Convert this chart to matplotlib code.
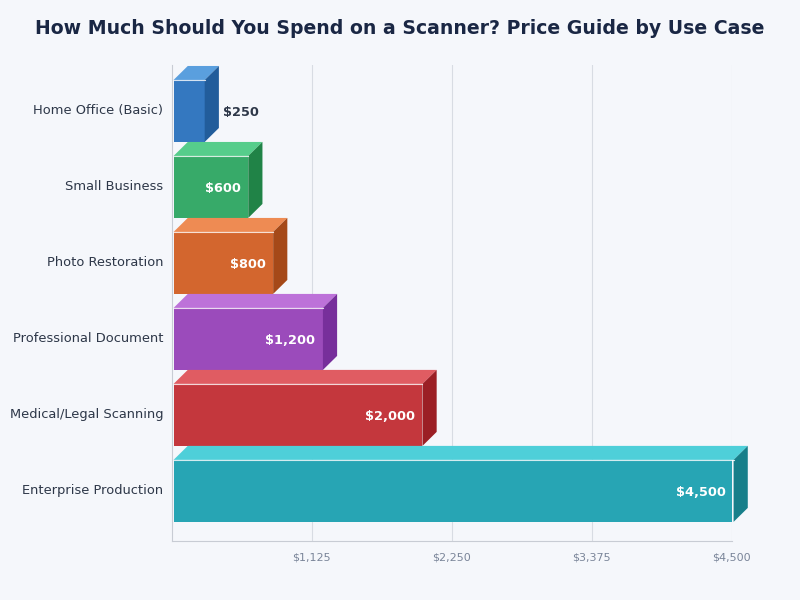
import matplotlib
matplotlib.use("Agg")
import matplotlib.pyplot as plt
from matplotlib.patches import Polygon

# data
categories = ["Enterprise Production", "Medical/Legal Scanning", "Professional Document",
              "Photo Restoration", "Small Business", "Home Office (Basic)"]
prices = [4500, 2000, 1200, 800, 600, 250]
front_colors = ["#27a5b4", "#c4373d", "#9b4bbb", "#d3662e", "#37aa69", "#3478c0"]
top_colors = ["#4ecfd9", "#e05c62", "#bd72d9", "#ee8b53", "#56cd8b", "#5a9fde"]
side_colors = ["#177f8a", "#9b1f25", "#772f9b", "#a54918", "#208347", "#225d9b"]
ticks = [1125, 2250, 3375, 4500]

bg = "#f5f7fb"
fig = plt.figure(figsize=(8, 6), dpi=100, facecolor=bg)
ax = fig.add_axes([0.2145, 0.0983, 0.70, 0.7934], facecolor=bg)

h = 0.816
dx = 114     # depth in x data units
dy = 0.184   # depth in y data units
x0 = 16      # small gap from the spine
ypos = list(range(len(categories)))

bars = ax.barh(ypos, prices, left=x0, height=h, color=front_colors, zorder=3)

for y, v, ct, cs in zip(ypos, prices, top_colors, side_colors):
    top = y + h / 2
    bot = y - h / 2
    r = x0 + v
    ax.add_patch(Polygon([(x0, top), (r, top), (r + dx, top + dy), (x0 + dx, top + dy)],
                         closed=True, facecolor=ct, edgecolor="none", zorder=3, clip_on=False))
    ax.add_patch(Polygon([(r, bot), (r + dx, bot + dy), (r + dx, top + dy), (r, top)],
                         closed=True, facecolor=cs, edgecolor="none", zorder=3, clip_on=False))
    ax.plot([x0, r], [top, top], color="white", lw=0.8, alpha=0.8, zorder=4, clip_on=False)
    label = "${:,}".format(v)
    if v < 400:
        ax.text(r + dx + 36, y, label, ha="left", va="center_baseline", fontsize=9.3,
                fontweight="bold", color="#2d3748", zorder=5)
    else:
        ax.text(r - 60, y, label, ha="right", va="center_baseline", fontsize=9.3,
                fontweight="bold", color="white", zorder=5)

ax.set_xlim(0, 4500)
ax.set_ylim(-0.66, 5.605)
ax.set_xticks(ticks)
ax.set_xticklabels(["${:,}".format(t) for t in ticks])
ax.set_yticks(ypos)
ax.set_yticklabels(categories, va="center")
ax.tick_params(axis="x", length=0, labelsize=8, labelcolor="#7a8599", pad=8)
ax.tick_params(axis="y", length=0, labelsize=9.4, labelcolor="#2d3748", pad=6)
ax.grid(axis="x", color="#d8dce3", lw=0.8, zorder=0)
for s in ["top", "right"]:
    ax.spines[s].set_visible(False)
for s in ["left", "bottom"]:
    ax.spines[s].set_color("#c8ccd4")
    ax.spines[s].set_linewidth(0.8)

fig.text(0.5, 0.952, "How Much Should You Spend on a Scanner? Price Guide by Use Case",
         ha="center", va="center", fontsize=13.6, fontweight="bold", color="#1a2744")

fig.savefig("out.png", dpi=100, facecolor=bg)
